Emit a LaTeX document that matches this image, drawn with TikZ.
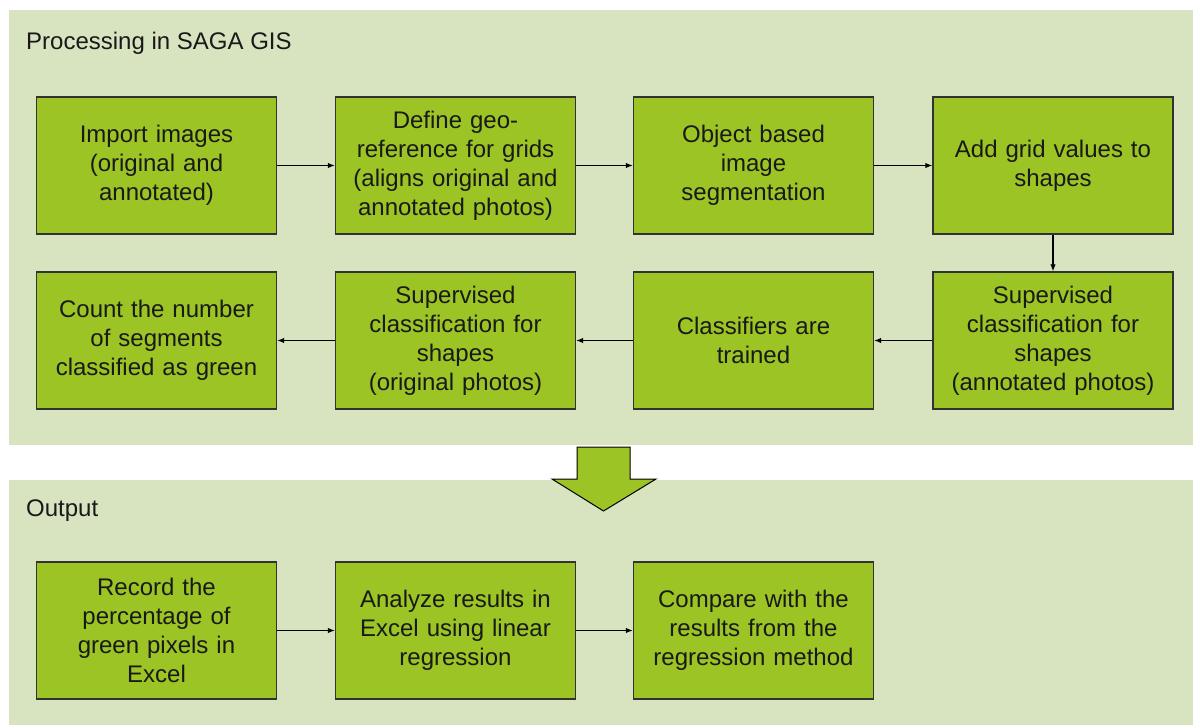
\documentclass[tikz,border=0pt]{standalone}
\usepackage{fontspec}
\setmainfont{Liberation Sans}
\usetikzlibrary{arrows.meta}
\definecolor{panelc}{RGB}{216,228,192}
\definecolor{boxc}{RGB}{155,196,36}
\definecolor{edgec}{RGB}{50,50,50}
\definecolor{txtc}{RGB}{25,25,25}
\begin{document}
\begin{tikzpicture}[x=1pt,y=-1pt,
  panel/.style={fill=panelc,draw=none},
  stepbox/.style={draw=edgec,line width=1.4pt,fill=boxc,minimum width=240pt,minimum height=137pt,
    text width=234pt,align=center,inner sep=0pt,text=txtc,font=\fontsize{24}{29}\selectfont},
  title/.style={anchor=base west,text=txtc,inner sep=0pt,font=\fontsize{24}{29}\selectfont},
  conn/.style={draw=black,line width=1.1pt,-{Latex[length=7pt,width=5.5pt]}},
  bigarrow/.style={draw=black,line width=1pt,fill=boxc,line join=miter}]
\useasboundingbox (0,0) rectangle (1193,725);
\fill[white] (0,0) rectangle (1193,725);
\path[panel] (9,10) rectangle (1193,445);
\path[panel] (9,480) rectangle (1193,725);
\node[title] (t1) at (26,50) {Processing in SAGA GIS};
\node[title] (t2) at (26,516) {Output};

\node[stepbox] (a1) at (156.5,165.5) {Import images\\(original and\\annotated)};
\node[stepbox] (a2) at (455.5,165.5) {Define geo-\\reference for grids\\(aligns original and\\annotated photos)};
\node[stepbox] (a3) at (753.5,165.5) {Object based\\image\\segmentation};
\node[stepbox] (a4) at (1053,165.5) {Add grid values to\\shapes};

\node[stepbox] (b4) at (1053,340.5) {Supervised\\classification for\\shapes\\(annotated photos)};
\node[stepbox] (b3) at (753.5,340.5) {Classifiers are\\trained};
\node[stepbox] (b2) at (455.5,340.5) {Supervised\\classification for\\shapes\\(original photos)};
\node[stepbox] (b1) at (156.5,340.5) {Count the number\\of segments\\classified as green};

\node[stepbox] (c1) at (156.5,630.5) {Record the\\percentage of\\green pixels in\\Excel};
\node[stepbox] (c2) at (455.5,630.5) {Analyze results in\\Excel using linear\\regression};
\node[stepbox] (c3) at (753.5,630.5) {Compare with the\\results from the\\regression method};

\draw[conn] (a1) -- (a2);
\draw[conn] (a2) -- (a3);
\draw[conn] (a3) -- (a4);
\draw[conn] (a4) -- (b4);
\draw[conn] (b4) -- (b3);
\draw[conn] (b3) -- (b2);
\draw[conn] (b2) -- (b1);
\draw[conn] (c1) -- (c2);
\draw[conn] (c2) -- (c3);

\draw[bigarrow] (577,447) -- (630,447) -- (630,479) -- (656,479) -- (603.5,511) -- (552,479) -- (577,479) -- cycle;
\end{tikzpicture}
\end{document}
